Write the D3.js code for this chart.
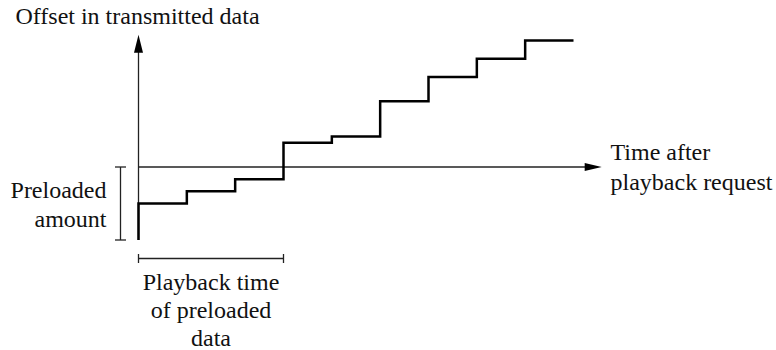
<!DOCTYPE html>
<html>
<head>
<meta charset="utf-8">
<script src="https://cdn.jsdelivr.net/npm/d3@7/dist/d3.min.js"></script>
</head>
<body style="margin:0">
<svg id="chart" width="776" height="350"></svg>
<script>
// Transmitted offset over time: a stair-step that starts with a preloaded burst.
const times   = [0, 0,   1,   2,   3,   4,    5,   6,   7,    8,   9];
const offsets = [0, 1.5, 2.0, 2.5, 4.0, 4.25, 5.7, 6.7, 7.45, 8.2, 8.2];
const preloadedAmount = 3;   // offset units already sent at request time
const preloadedPlayback = 3; // time units needed to play the preloaded data
const axisTop = 8.43;
const axisRight = 9.5;

const yLabel = "Offset in transmitted data";
const xLabel = ["Time after", "playback request"];
const amountLabel = ["Preloaded", "amount"];
const playbackLabel = ["Playback time", "of preloaded", "data"];

const svg = d3.select("#chart");
const x = d3.scaleLinear().domain([0, 9]).range([138.5, 573.5]);
const y = d3.scaleLinear().domain([0, preloadedAmount]).range([240, 167]);

const thin = { stroke: "#222", width: 1.3 };

function serif(sel) {
  return sel.attr("font-family", "Liberation Serif")
    .style("font-family", "Liberation Serif")
    .style("font-size", "24px")
    .attr("fill", "#111");
}

// Vertical axis with arrowhead
svg.append("line")
  .attr("x1", x(0)).attr("x2", x(0))
  .attr("y1", y(0)).attr("y2", y(axisTop) + 10)
  .attr("stroke", thin.stroke).attr("stroke-width", thin.width);
svg.append("path")
  .attr("d", d3.line()([[x(0), y(axisTop)], [x(0) - 4.5, y(axisTop) + 18], [x(0) + 4.5, y(axisTop) + 18]]) + "Z")
  .attr("fill", "#000");

// Horizontal axis, drawn at the preloaded level
const xEnd = x(axisRight) + 4;
svg.append("line")
  .attr("x1", x(0)).attr("x2", xEnd - 10)
  .attr("y1", y(preloadedAmount)).attr("y2", y(preloadedAmount))
  .attr("stroke", thin.stroke).attr("stroke-width", thin.width);
svg.append("path")
  .attr("d", d3.line()([[xEnd, y(preloadedAmount)], [xEnd - 17, y(preloadedAmount) - 4], [xEnd - 17, y(preloadedAmount) + 4]]) + "Z")
  .attr("fill", "#000");

// Stair-step curve
const step = d3.line()
  .x((d, i) => x(times[i]))
  .y(d => y(d))
  .curve(d3.curveStepAfter);
svg.append("path")
  .datum(offsets)
  .attr("d", step)
  .attr("fill", "none")
  .attr("stroke", "#000")
  .attr("stroke-width", 2.5);

// Bracket for preloaded amount
const bx = 120.5;
const bracketV = svg.append("g").attr("stroke", thin.stroke).attr("stroke-width", thin.width);
bracketV.append("line").attr("x1", bx).attr("x2", bx).attr("y1", y(0)).attr("y2", y(preloadedAmount));
bracketV.append("line").attr("x1", bx - 5.5).attr("x2", bx + 5.5).attr("y1", y(0)).attr("y2", y(0));
bracketV.append("line").attr("x1", bx - 5.5).attr("x2", bx + 5.5).attr("y1", y(preloadedAmount)).attr("y2", y(preloadedAmount));

// Bracket for playback time of preloaded data
const by = 258.5;
const bracketH = svg.append("g").attr("stroke", thin.stroke).attr("stroke-width", thin.width);
bracketH.append("line").attr("x1", x(0)).attr("x2", x(preloadedPlayback)).attr("y1", by).attr("y2", by);
bracketH.append("line").attr("x1", x(0)).attr("x2", x(0)).attr("y1", by - 4.5).attr("y2", by + 4.5);
bracketH.append("line").attr("x1", x(preloadedPlayback)).attr("x2", x(preloadedPlayback)).attr("y1", by - 4.5).attr("y2", by + 4.5);

// Labels
const labels = svg.append("g");

labels.append("text").call(serif)
  .attr("x", x(0) - 1).attr("y", 23.5).attr("text-anchor", "middle").text(yLabel);

labels.selectAll("text.xl").data(xLabel).join("text")
  .attr("class", "xl").call(serif)
  .attr("x", 610.5).attr("y", (d, i) => 159.5 + i * 30)
  .text(d => d);

labels.selectAll("text.al").data(amountLabel).join("text")
  .attr("class", "al").call(serif)
  .attr("x", 106.5).attr("y", (d, i) => 197.5 + i * 29.5)
  .attr("text-anchor", "end")
  .text(d => d);

labels.selectAll("text.pl").data(playbackLabel).join("text")
  .attr("class", "pl").call(serif)
  .attr("x", (x(0) + x(preloadedPlayback)) / 2).attr("y", (d, i) => 290 + i * 28.2)
  .attr("text-anchor", "middle")
  .text(d => d);
</script>
</body>
</html>
